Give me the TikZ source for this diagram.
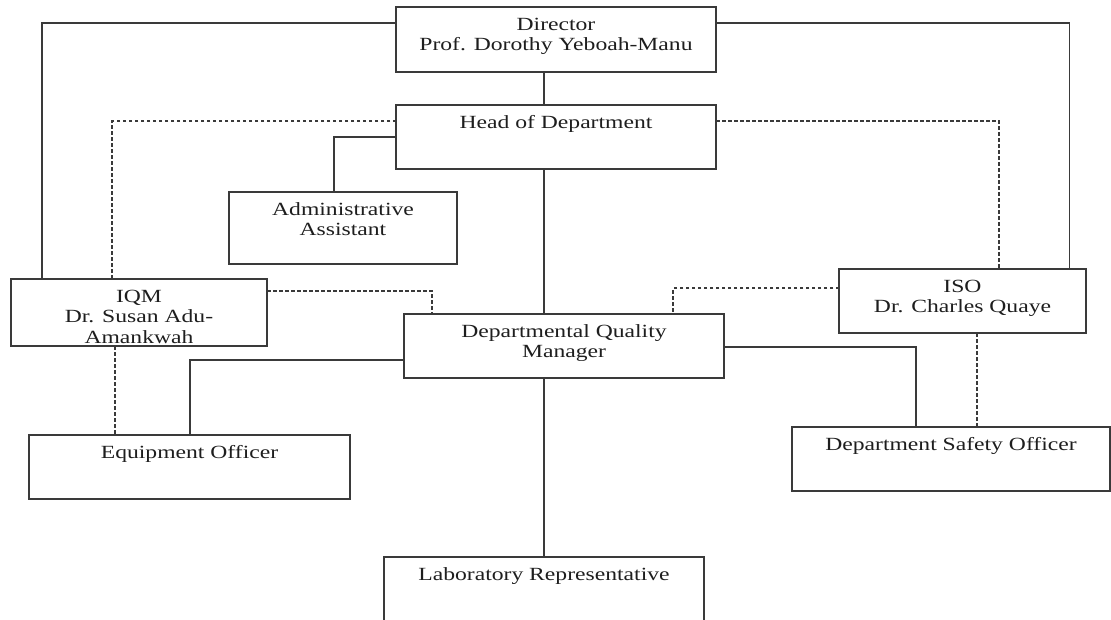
\documentclass[tikz,border=0pt]{standalone}
\usepackage{fontspec}
\setmainfont{Liberation Serif}[FakeStretch=1.27]
\usetikzlibrary{calc}
\definecolor{lc}{HTML}{3A3A3A}
\definecolor{tc}{HTML}{1E1E1E}
\tikzset{
  box/.style={draw=lc, line width=1.2pt, inner sep=0pt, outer sep=0pt, fill=white},
  lbl/.style={anchor=north, inner sep=0pt, outer sep=0pt, align=center, text=tc,
              font=\fontsize{18.6}{20.3}\selectfont},
  conn/.style={draw=lc, line width=1.2pt},
  dconn/.style={draw=lc, line width=1.1pt, dash pattern=on 3.5pt off 2.5pt},
}
\newcommand{\fstrut}{\rule{0pt}{14pt}}
\begin{document}
\begin{tikzpicture}[x=1pt,y=-1pt]
\clip (0,0) rectangle (1111,619);
\fill[white] (0,0) rectangle (1111,619);

\coordinate (dirC) at (556,39.5);
\coordinate (hodC) at (556,137);
\coordinate (admC) at (343,228);
\coordinate (iqmC) at (139,312.5);
\coordinate (isoC) at (962.5,301);
\coordinate (dqmC) at (564,346);
\coordinate (eqpC) at (189.5,467);
\coordinate (dsoC) at (951,459);
\coordinate (labC) at (544,589);

\node[box, minimum width=320pt, minimum height=65pt] (dir) at (dirC) {};
\node[box, minimum width=320pt, minimum height=64pt] (hod) at (hodC) {};
\node[box, minimum width=228pt, minimum height=72pt] (adm) at (admC) {};
\node[box, minimum width=256pt, minimum height=67pt] (iqm) at (iqmC) {};
\node[box, minimum width=247pt, minimum height=64pt] (iso) at (isoC) {};
\node[box, minimum width=320pt, minimum height=64pt] (dqm) at (dqmC) {};
\node[box, minimum width=321pt, minimum height=64pt] (eqp) at (eqpC) {};
\node[box, minimum width=318pt, minimum height=64pt] (dso) at (dsoC) {};
\node[box, minimum width=320pt, minimum height=64pt] (lab) at (labC) {};

% solid connectors
\draw[conn] ($(dir.north west)+(0,16)$) -| ($(iqm.north west)+(31,0)$);
\draw[conn] ($(dir.north east)+(0,16)$) -| ($(iso.north east)+(-16.5,0)$);
\draw[conn] ($(dir.south)+(-12,0)$) -- ($(hod.north)+(-12,0)$);
\draw[conn] ($(hod.south)+(-12,0)$) -- ($(dqm.north)+(-20,0)$);
\draw[conn] ($(hod.north west)+(0,32)$) -| ($(adm.north west)+(105,0)$);
\draw[conn] ($(dqm.north west)+(0,46)$) -| ($(eqp.north west)+(161,0)$);
\draw[conn] ($(dqm.north east)+(0,33)$) -| ($(dso.north west)+(124,0)$);
\draw[conn] ($(dqm.south)+(-20,0)$) -- (lab.north);

% dashed connectors
\draw[dconn] ($(hod.north west)+(0,16)$) -| ($(iqm.north west)+(101,0)$);
\draw[dconn] ($(hod.north east)+(0,16)$) -| ($(iso.north west)+(160,0)$);
\draw[dconn] ($(iqm.north east)+(0,12)$) -| ($(dqm.north west)+(28,0)$);
\draw[dconn] ($(iso.north west)+(0,19)$) -| ($(dqm.north west)+(269,0)$);
\draw[dconn] ($(iqm.south west)+(104,0)$) -- ($(eqp.north west)+(86,0)$);
\draw[dconn] ($(iso.south west)+(138,0)$) -- ($(dso.north west)+(185,0)$);

% labels
\node[lbl] (dirt) at ($(dir.north)+(0,9.5)$) {\fstrut Director\\Prof. Dorothy Yeboah-Manu};
\node[lbl] (hodt) at ($(hod.north)+(0,9.5)$) {\fstrut Head of Department};
\node[lbl] (admt) at ($(adm.north)+(0,9.5)$) {\fstrut Administrative\\Assistant};
\node[lbl] (iqmt) at ($(iqm.north)+(0,9.5)$) {\fstrut IQM\\Dr. Susan Adu-\\Amankwah};
\node[lbl] (isot) at ($(iso.north)+(0,9.5)$) {\fstrut ISO\\Dr. Charles Quaye};
\node[lbl] (dqmt) at ($(dqm.north)+(0,9.5)$) {\fstrut Departmental Quality\\Manager};
\node[lbl] (eqpt) at ($(eqp.north)+(0,9.5)$) {\fstrut Equipment Officer};
\node[lbl] (dsot) at ($(dso.north)+(0,9.5)$) {\fstrut Department Safety Officer};
\node[lbl] (labt) at ($(lab.north)+(0,9.5)$) {\fstrut Laboratory Representative};
\end{tikzpicture}
\end{document}
